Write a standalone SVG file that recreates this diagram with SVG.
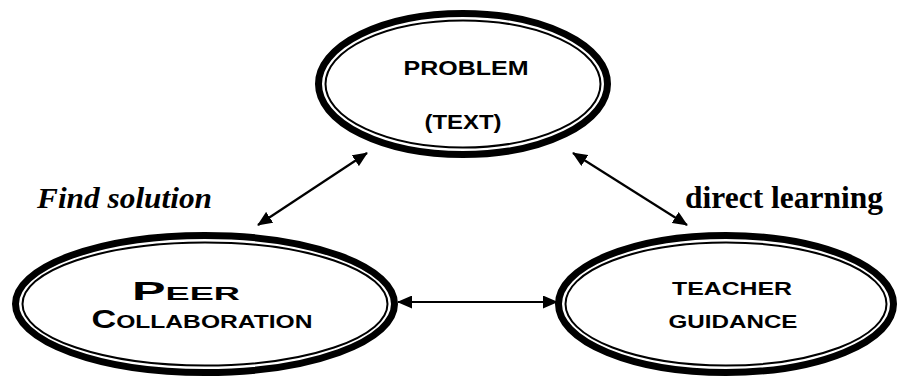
<svg xmlns="http://www.w3.org/2000/svg" width="898" height="376" viewBox="0 0 898 376">
  <style>
    .outer { fill: #fff; stroke: #000; stroke-width: 7; }
    .inner { fill: none; stroke: #000; stroke-width: 2; }
    .node { font-family: "Liberation Sans", Arial, sans-serif; font-weight: bold; fill: #000; text-anchor: middle; }
    .conn { stroke: #000; stroke-width: 2.2; fill: none; }
    .lbl { font-family: "Liberation Serif", "Times New Roman", serif; font-weight: bold; fill: #000; }
  </style>
  <defs>
    <marker id="ah" viewBox="0 0 15 13" refX="14" refY="6.5" markerWidth="15" markerHeight="13" markerUnits="userSpaceOnUse" orient="auto-start-reverse">
      <path d="M0,0 L15,6.5 L0,13 z" fill="#000"/>
    </marker>
  </defs>

  <g id="node-problem">
    <ellipse class="outer" cx="463" cy="84" rx="144.5" ry="70.5"/>
    <ellipse class="inner" cx="463" cy="84" rx="137.5" ry="63.5"/>
    <text class="node" x="466" y="75" font-size="21" textLength="125" lengthAdjust="spacingAndGlyphs">PROBLEM</text>
    <text class="node" x="463" y="129" font-size="21" textLength="77" lengthAdjust="spacingAndGlyphs">(TEXT)</text>
  </g>

  <g id="node-peer">
    <ellipse class="outer" cx="205" cy="304" rx="189.5" ry="68.5"/>
    <ellipse class="inner" cx="205" cy="304" rx="182.5" ry="61.5"/>
    <text class="node" x="186" y="300" font-size="18" textLength="108" lengthAdjust="spacingAndGlyphs"><tspan font-size="25">P</tspan>EER</text>
    <text class="node" x="202" y="328" font-size="18" textLength="221" lengthAdjust="spacingAndGlyphs"><tspan font-size="25">C</tspan>OLLABORATION</text>
  </g>

  <g id="node-teacher">
    <ellipse class="outer" cx="726" cy="304" rx="167.5" ry="68.5"/>
    <ellipse class="inner" cx="726" cy="304" rx="160.5" ry="61.5"/>
    <text class="node" x="732" y="295" font-size="18" textLength="120" lengthAdjust="spacingAndGlyphs">TEACHER</text>
    <text class="node" x="733" y="328" font-size="18" textLength="129" lengthAdjust="spacingAndGlyphs">GUIDANCE</text>
  </g>

  <g id="connectors">
    <line class="conn" x1="258" y1="225" x2="367" y2="153" marker-start="url(#ah)" marker-end="url(#ah)"/>
    <line class="conn" x1="573" y1="153" x2="687" y2="225" marker-start="url(#ah)" marker-end="url(#ah)"/>
    <line class="conn" x1="398" y1="302" x2="557" y2="302" marker-start="url(#ah)" marker-end="url(#ah)"/>
  </g>

  <g id="labels">
    <text class="lbl" x="37" y="208" font-size="30" font-style="italic" textLength="175" lengthAdjust="spacingAndGlyphs">Find solution</text>
    <text class="lbl" x="685" y="208" font-size="31" textLength="198" lengthAdjust="spacingAndGlyphs">direct learning</text>
  </g>
</svg>
